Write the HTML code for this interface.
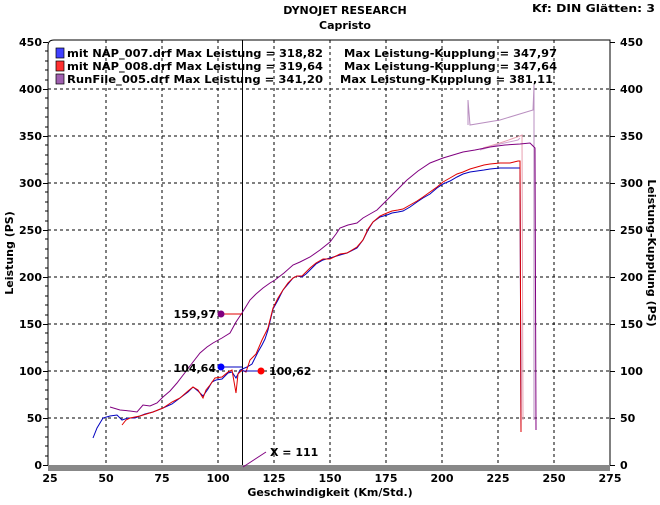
<!DOCTYPE html><html><head><style>
body{margin:0;background:#fff;}
svg text{font-family:"DejaVu Sans","Liberation Sans",sans-serif;font-weight:bold;font-size:11px;fill:#000}
</style></head><body>
<svg width="660" height="500" viewBox="0 0 660 500" xmlns="http://www.w3.org/2000/svg">
<text x="345" y="14" text-anchor="middle">DYNOJET RESEARCH</text>
<text x="345" y="29" text-anchor="middle">Capristo</text>
<text x="655" y="12" text-anchor="end" textLength="123" lengthAdjust="spacingAndGlyphs">Kf: DIN  Glätten: 3</text>
<path d="M48,465 V46 Q48,40 54,40 H610 V465" fill="none" stroke="#000" stroke-width="1"/>
<rect x="48" y="465" width="562" height="6" fill="#888"/>
<g stroke="#000" stroke-width="1">
<path d="M43,465.5h5M43,418.5h5M43,371.5h5M43,324.5h5M43,277.5h5M43,230.5h5M43,183.5h5M43,136.5h5M43,89.5h5M43,42.5h5"/>
<path d="M45,456h3M45,446h3M45,437h3M45,427h3M45,409h3M45,399h3M45,390h3M45,380h3M45,362h3M45,352h3M45,343h3M45,333h3M45,315h3M45,305h3M45,296h3M45,286h3M45,268h3M45,258h3M45,249h3M45,239h3M45,221h3M45,211h3M45,202h3M45,192h3M45,174h3M45,164h3M45,155h3M45,145h3M45,127h3M45,117h3M45,108h3M45,98h3M45,80h3M45,70h3M45,61h3M45,51h3"/>
<path d="M610,465.5h5M610,418.5h5M610,371.5h5M610,324.5h5M610,277.5h5M610,230.5h5M610,183.5h5M610,136.5h5M610,89.5h5M610,42.5h5"/>
</g>
<g stroke="#000" stroke-dasharray="3,3" stroke-width="1">
<line x1="106" y1="40" x2="106" y2="465"/><line x1="162" y1="40" x2="162" y2="465"/><line x1="218" y1="40" x2="218" y2="465"/><line x1="274" y1="40" x2="274" y2="465"/><line x1="330" y1="40" x2="330" y2="465"/><line x1="386" y1="40" x2="386" y2="465"/><line x1="442" y1="40" x2="442" y2="465"/><line x1="498" y1="40" x2="498" y2="465"/><line x1="554" y1="40" x2="554" y2="465"/>
<line x1="48" y1="418" x2="610" y2="418"/><line x1="48" y1="371" x2="610" y2="371"/><line x1="48" y1="324" x2="610" y2="324"/><line x1="48" y1="277" x2="610" y2="277"/><line x1="48" y1="230" x2="610" y2="230"/><line x1="48" y1="183" x2="610" y2="183"/><line x1="48" y1="136" x2="610" y2="136"/><line x1="48" y1="89" x2="610" y2="89"/>
</g>
<line x1="242.5" y1="40" x2="242.5" y2="465" stroke="#000"/>
<g text-anchor="end">
<text x="42" y="469">0</text><text x="42" y="422">50</text><text x="42" y="375">100</text><text x="42" y="328">150</text><text x="42" y="281">200</text><text x="42" y="234">250</text><text x="42" y="187">300</text><text x="42" y="140">350</text><text x="42" y="93">400</text><text x="42" y="46">450</text>
</g>
<g>
<text x="620" y="469">0</text><text x="620" y="422">50</text><text x="620" y="375">100</text><text x="620" y="328">150</text><text x="620" y="281">200</text><text x="620" y="234">250</text><text x="620" y="187">300</text><text x="620" y="140">350</text><text x="620" y="93">400</text><text x="620" y="46">450</text>
</g>
<g text-anchor="middle">
<text x="50" y="482">25</text><text x="106" y="482">50</text><text x="162" y="482">75</text><text x="218" y="482">100</text><text x="274" y="482">125</text><text x="330" y="482">150</text><text x="386" y="482">175</text><text x="442" y="482">200</text><text x="498" y="482">225</text><text x="554" y="482">250</text><text x="610" y="482">275</text>
</g>
<text x="330" y="496" text-anchor="middle">Geschwindigkeit (Km/Std.)</text>
<text transform="translate(13,253) rotate(-90)" text-anchor="middle">Leistung (PS)</text>
<text transform="translate(648,253) rotate(90)" text-anchor="middle">Leistung-Kupplung (PS)</text>
<polyline fill="none" stroke="#b98fc0" points="468,125 468,100 470,125 500,120 533,110 534,85 534,420"/>
<polyline fill="none" stroke="#e8a0b0" points="483,148 500,143 520,136 522,135 523,420"/>
<polyline fill="none" stroke="#cfa0d0" points="480,150 500,144 518,140 520,138"/>
<polyline fill="none" stroke="#800080" points="110,407 120,410 130,411 137,412 143,405 150,406 157,403 163,397 170,391 177,383 187,370 193,362 200,353 207,347 213,343 222,338 230,333 236,322 242,313 250,300 256,294 263,288 270,283 275,280 284,273 293,265 300,262 310,257 320,250 330,242 336,234 340,228 348,225 357,223 363,218 370,214 377,210 387,200 397,190 407,180 418,171 430,163 443,158 453,155 463,152 475,150 490,147 505,145 520,144 530,143 535,148 536,430"/>
<polyline fill="none" stroke="#0000c0" points="93,438 97,428 103,418 110,416 117,415 122,420 128,418 135,418 145,414 153,412 163,408 172,404 180,398 188,392 193,387 198,391 203,396 208,389 212,382 216,380 222,379 228,373 232,372 236,378 240,370 247,367 252,364 258,352 262,345 265,339 268,330 273,309 278,300 283,290 288,284 293,278 297,276 302,277 306,274 310,270 316,264 323,260 330,258 340,255 347,253 357,248 363,240 368,230 373,222 380,217 387,215 392,213 398,212 403,211 410,207 417,202 423,198 430,194 437,188 443,184 450,181 457,177 463,174 470,172 477,171 484,170 490,169 500,168 510,168 518,168 520,168 521,432"/>
<polyline fill="none" stroke="#e00000" points="122,425 126,420 130,418 140,416 153,412 163,408 172,402 180,398 188,391 193,387 198,390 203,398 206,390 210,385 215,378 222,377 228,372 232,370 236,393 238,374 242,370 246,372 250,360 256,354 262,340 265,334 268,328 273,308 278,298 283,290 288,283 293,278 297,276 302,276 306,272 310,268 316,263 323,259 330,259 340,254 347,253 357,247 363,240 368,229 373,222 380,216 387,213 392,211 398,210 403,209 410,205 417,201 423,197 430,192 437,187 443,182 450,178 457,174 463,172 470,169 477,167 484,165 490,164 500,163 510,163 518,161 520,161 521,432"/>
<line x1="221" y1="314" x2="242" y2="314" stroke="#e00000"/>
<circle cx="221" cy="314" r="3.5" fill="#800080"/>
<text x="216" y="318" text-anchor="end">159,97</text>
<line x1="221" y1="367" x2="242" y2="367" stroke="#0000c0"/>
<circle cx="221" cy="367" r="3.5" fill="#0000ff"/>
<text x="216" y="372" text-anchor="end">104,64</text>
<line x1="242" y1="371" x2="261" y2="371" stroke="#0000c0"/>
<circle cx="261" cy="371" r="3.5" fill="#ff0000"/>
<text x="269" y="375">100,62</text>
<line x1="243" y1="467" x2="266" y2="452" stroke="#800080"/>
<text x="270" y="456">X = 111</text>
<rect x="56" y="48" width="8" height="10" fill="#4040ff" stroke="#000" stroke-width="0.7"/>
<rect x="56" y="61" width="8" height="10" fill="#ff3030" stroke="#000" stroke-width="0.7"/>
<rect x="56" y="74" width="8" height="10" fill="#a060b0" stroke="#000" stroke-width="0.7"/>
<text x="67" y="57" textLength="256" lengthAdjust="spacingAndGlyphs">mit NAP_007.drf Max Leistung = 318,82</text>
<text x="67" y="70" textLength="256" lengthAdjust="spacingAndGlyphs">mit NAP_008.drf Max Leistung = 319,64</text>
<text x="67" y="83" textLength="256" lengthAdjust="spacingAndGlyphs">RunFile_005.drf Max Leistung = 341,20</text>
<text x="344" y="57" textLength="213" lengthAdjust="spacingAndGlyphs">Max Leistung-Kupplung = 347,97</text>
<text x="344" y="70" textLength="213" lengthAdjust="spacingAndGlyphs">Max Leistung-Kupplung = 347,64</text>
<text x="340" y="83" textLength="213" lengthAdjust="spacingAndGlyphs">Max Leistung-Kupplung = 381,11</text>
</svg>
</body></html>
